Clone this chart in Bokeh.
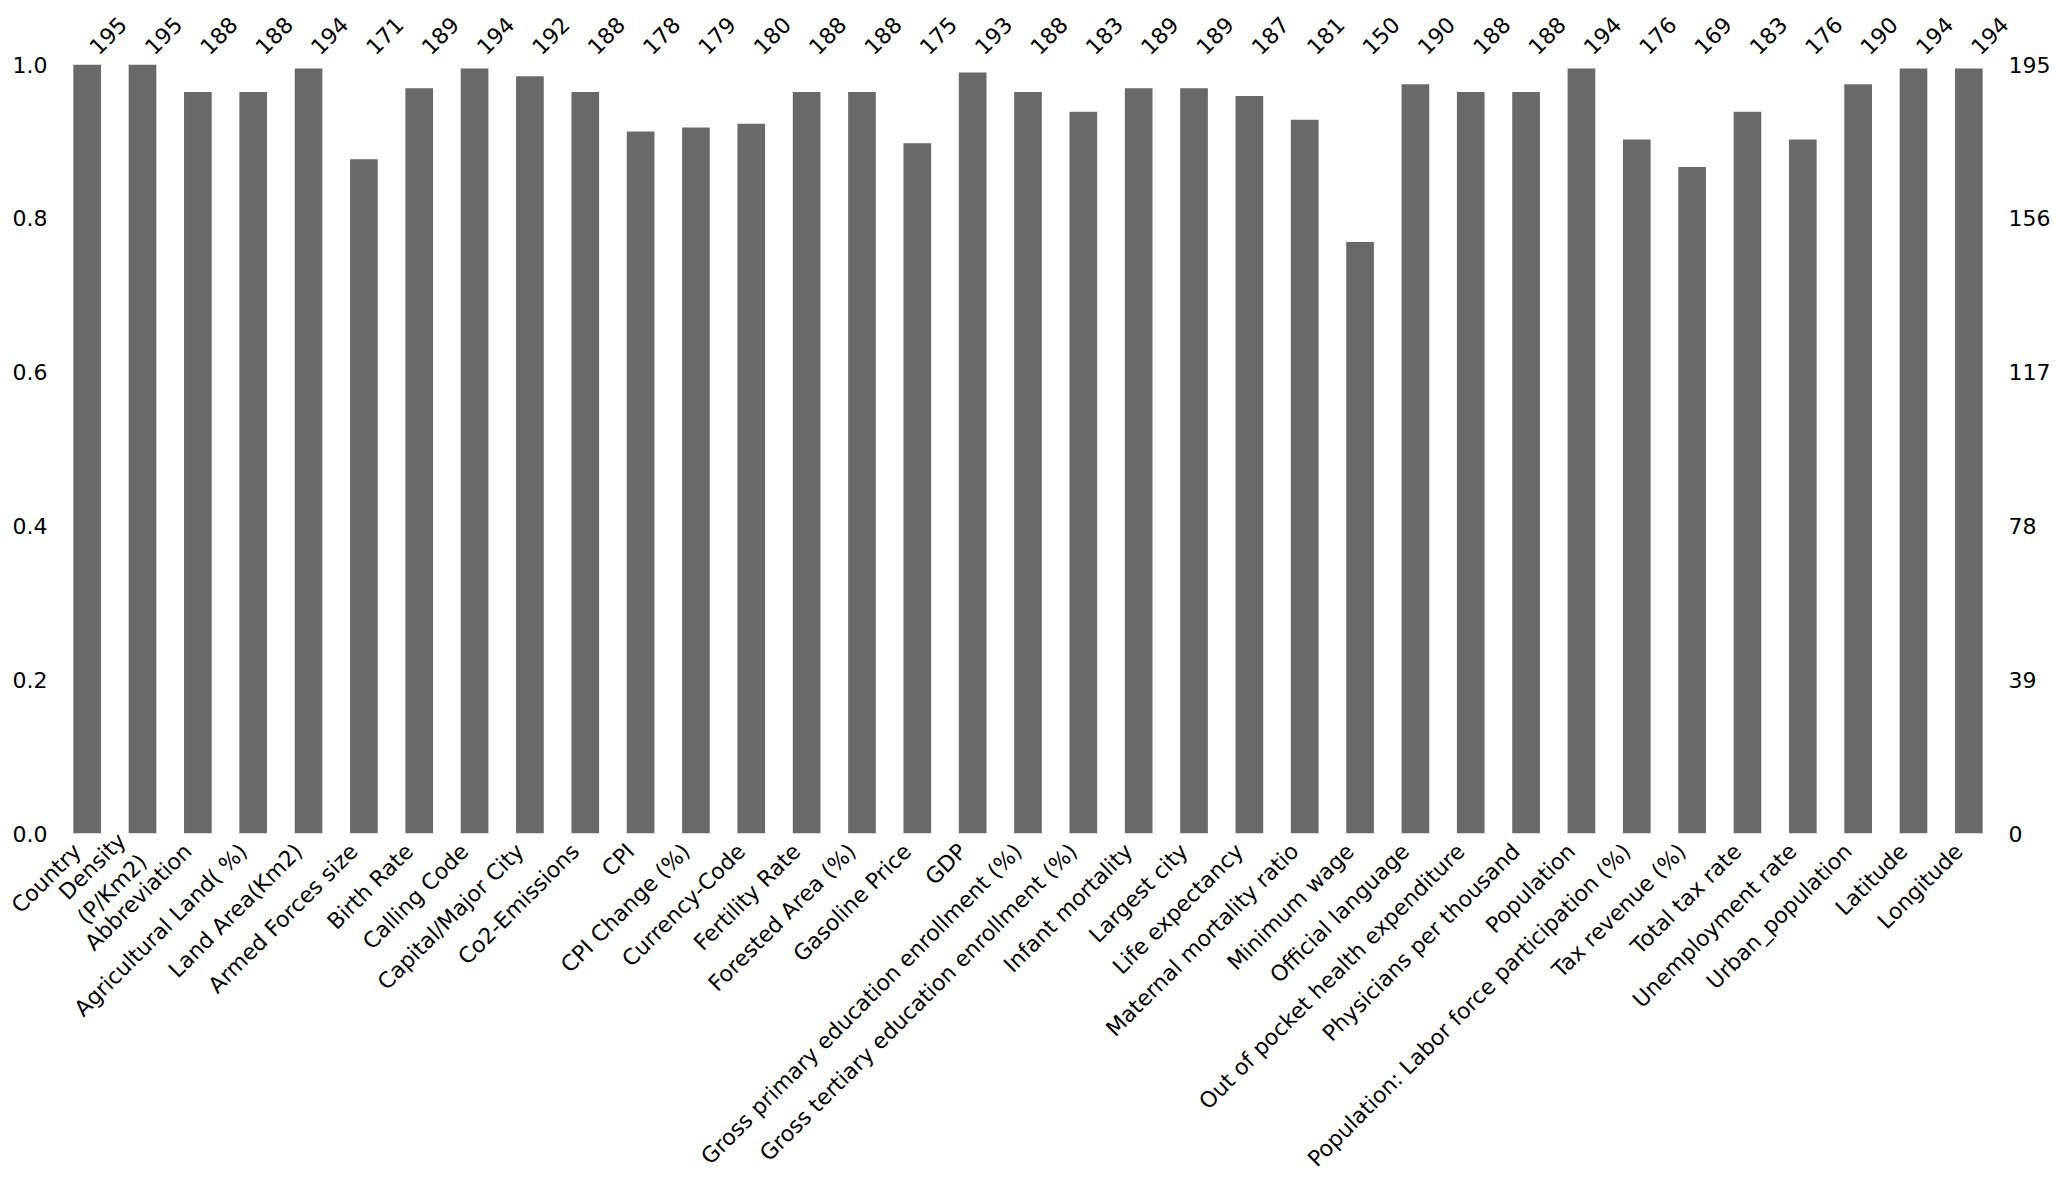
import math
from bokeh.plotting import figure
from bokeh.models import Range1d, LinearAxis, FixedTicker
from bokeh.embed import file_html
from bokeh.resources import INLINE

columns = [
    "Country", "Density\n(P/Km2)", "Abbreviation", "Agricultural Land( %)",
    "Land Area(Km2)", "Armed Forces size", "Birth Rate", "Calling Code",
    "Capital/Major City", "Co2-Emissions", "CPI", "CPI Change (%)",
    "Currency-Code", "Fertility Rate", "Forested Area (%)", "Gasoline Price",
    "GDP", "Gross primary education enrollment (%)",
    "Gross tertiary education enrollment (%)", "Infant mortality",
    "Largest city", "Life expectancy", "Maternal mortality ratio",
    "Minimum wage", "Official language", "Out of pocket health expenditure",
    "Physicians per thousand", "Population",
    "Population: Labor force participation (%)", "Tax revenue (%)",
    "Total tax rate", "Unemployment rate", "Urban_population", "Latitude",
    "Longitude",
]
counts = [
    195, 195, 188, 188, 194, 171, 189, 194, 192, 188, 178, 179, 180, 188, 188,
    175, 193, 188, 183, 189, 189, 187, 181, 150, 190, 188, 188, 194, 176, 169,
    183, 176, 190, 194, 194,
]
total_rows = 195
left_ticks = [0.0, 0.2, 0.4, 0.6, 0.8, 1.0]
right_ticks = [0, 39, 78, 117, 156, 195]

xs = list(range(len(columns)))
fractions = [c / total_rows for c in counts]

FONT = "DejaVu Sans"
FS = "22px"
N = len(columns)
FRAME_W = 1937
unit_px = FRAME_W / N
name_shift = 10 / unit_px   # bottom labels sit a little left of their tick
count_shift = 6 / unit_px   # top labels sit a little right of their tick

p = figure(
    frame_width=FRAME_W, frame_height=769,
    x_range=Range1d(-0.5, N - 0.5),
    y_range=Range1d(0, 1),
    output_backend="svg", toolbar_location=None,
    x_axis_location=None, y_axis_location=None,
    min_border_left=59, min_border_right=54,
    min_border_top=64, min_border_bottom=340,
    background_fill_color="white", border_fill_color="white",
)
p.outline_line_color = None
p.xgrid.visible = False
p.ygrid.visible = False
p.extra_y_ranges = {"count": Range1d(0, total_rows)}
p.extra_x_ranges = {
    "names": Range1d(-0.5 + name_shift, N - 0.5 + name_shift),
    "counts": Range1d(-0.5 - count_shift, N - 0.5 - count_shift),
}

p.vbar(x=xs, top=fractions, width=0.5, color="dimgray", line_color=None)


def style(ax, standoff):
    ax.axis_line_color = None
    ax.major_tick_line_color = None
    ax.minor_tick_line_color = None
    ax.major_tick_out = 0
    ax.major_tick_in = 0
    ax.minor_tick_out = 0
    ax.major_label_standoff = standoff
    ax.major_label_text_font = FONT
    ax.major_label_text_font_size = FS
    ax.major_label_text_color = "black"


left = LinearAxis(ticker=FixedTicker(ticks=left_ticks),
                  major_label_overrides={t: f"{t:.1f}" for t in left_ticks})
style(left, 12)
p.add_layout(left, "left")

right = LinearAxis(y_range_name="count", ticker=FixedTicker(ticks=right_ticks))
style(right, 12)
p.add_layout(right, "right")

bottom = LinearAxis(x_range_name="names", ticker=FixedTicker(ticks=xs),
                    major_label_overrides={i: n for i, n in zip(xs, columns)},
                    major_label_orientation=math.pi / 4)
style(bottom, 14)
p.add_layout(bottom, "below")

top = LinearAxis(x_range_name="counts", ticker=FixedTicker(ticks=xs),
                 major_label_overrides={i: str(c) for i, c in zip(xs, counts)},
                 major_label_orientation=math.pi / 4)
style(top, 14)
p.add_layout(top, "above")

open("out.html", "w").write(file_html(p, INLINE))
